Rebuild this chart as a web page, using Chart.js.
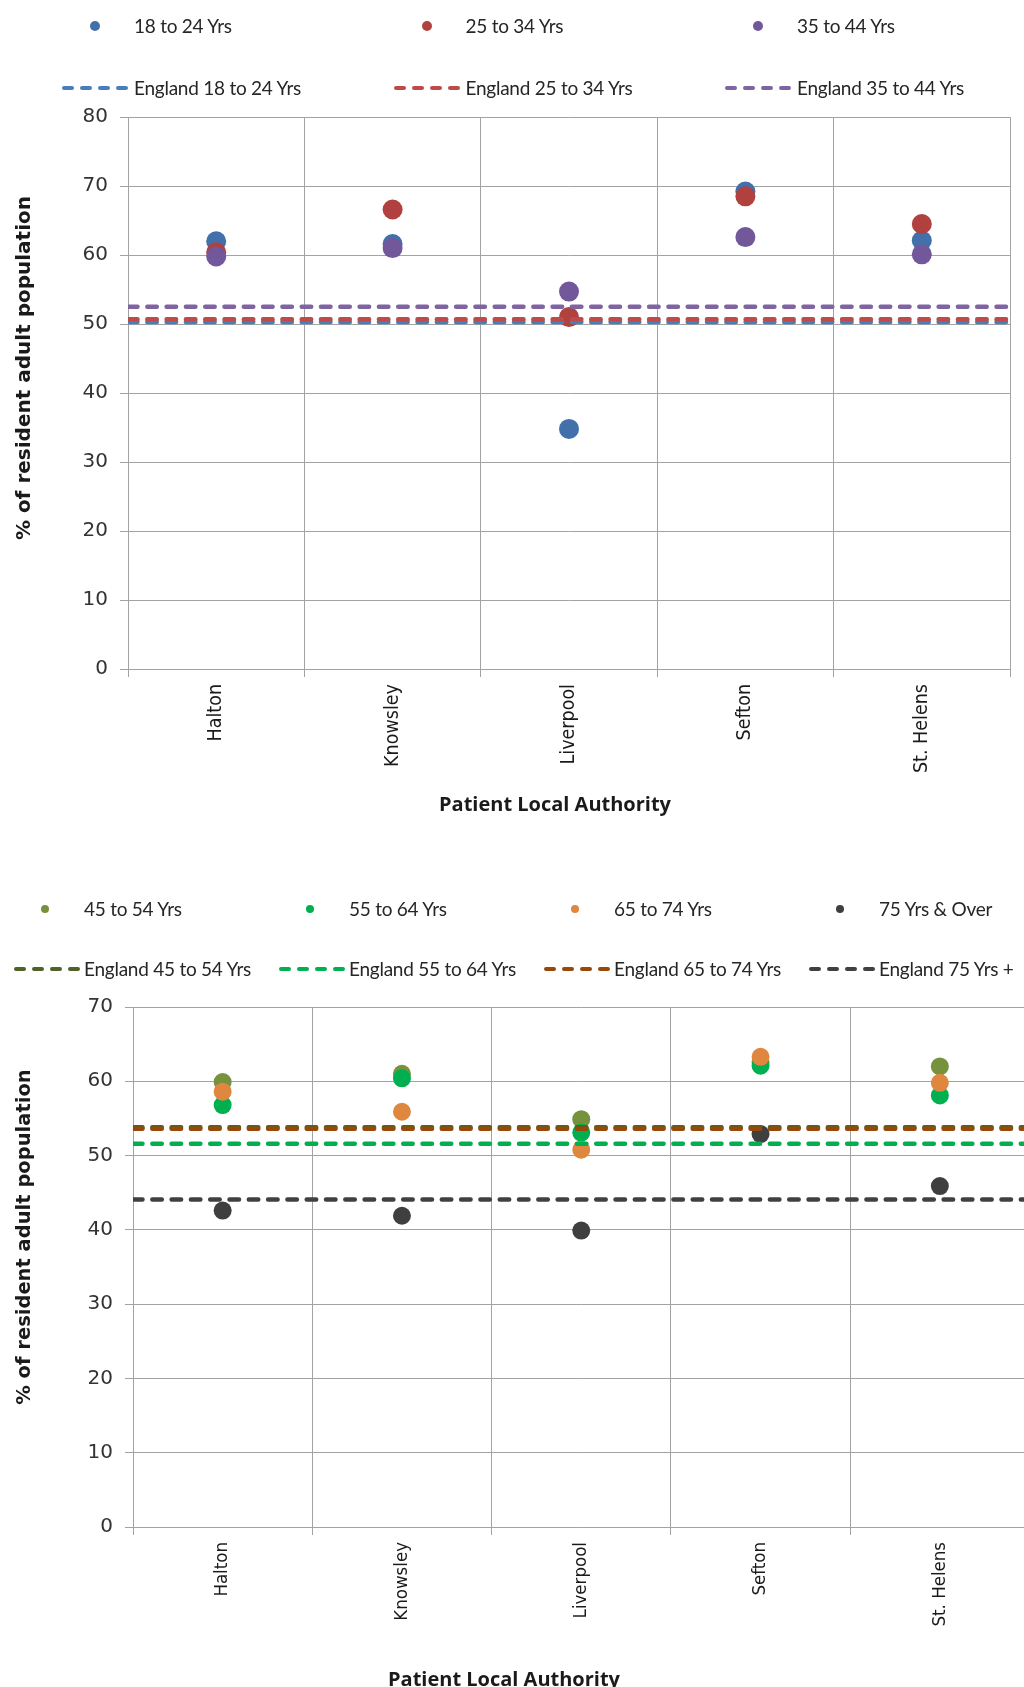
<!DOCTYPE html>
<html>
<head>
<meta charset="utf-8">
<script src="https://cdn.jsdelivr.net/npm/chart.js@4.4.1/dist/chart.umd.min.js"></script>
<style>
  html, body { margin: 0; padding: 0; background: #fff; width: 1024px; height: 1687px; overflow: hidden; position: relative; }
  .bloco { position: absolute; left: 0; }
  .item { position: absolute; white-space: nowrap; font-family: Lato, 'Open Sans', sans-serif; font-size: 19px; letter-spacing: -0.25px; line-height: 24px; color: #262626; }
  .ponto { position: absolute; border-radius: 50%; }
  .traco { position: absolute; }
</style>
</head>
<body>
<div class="bloco" style="top:0; width:1024px; height:830px;"><canvas id="chartJovens" width="1024" height="830"></canvas></div>
<div class="bloco" style="top:870px; width:1040px; height:822px;"><canvas id="chartVelhos" width="1040" height="822"></canvas></div>
<div id="legendaJovens"></div>
<div id="legendaVelhos"></div>
<script>
// Autoridades locais (eixo x)
const categorias = ['Halton', 'Knowsley', 'Liverpool', 'Sefton', 'St. Helens'];

// Grafico de cima: faixas etarias mais jovens (% da populacao adulta residente)
const rotulosJovens = ['18 to 24 Yrs', '25 to 34 Yrs', '35 to 44 Yrs'];
const valores18a24 = [62.0, 61.6, 34.8, 69.2, 62.1];
const valores25a34 = [60.4, 66.6, 51.0, 68.5, 64.5];
const valores35a44 = [59.8, 61.0, 54.7, 62.6, 60.1];
const rotulosInglaterraJovens = ['England 18 to 24 Yrs', 'England 25 to 34 Yrs', 'England 35 to 44 Yrs'];
const inglaterraJovens = [50.3, 50.7, 52.5];
const ticksJovens = [0, 10, 20, 30, 40, 50, 60, 70, 80];

// Grafico de baixo: faixas etarias mais velhas
const rotulosVelhos = ['45 to 54 Yrs', '55 to 64 Yrs', '65 to 74 Yrs', '75 Yrs & Over'];
const valores45a54 = [59.9, 61.0, 54.9, 62.6, 62.0];
const valores55a64 = [56.8, 60.4, 53.1, 62.1, 58.1];
const valores65a74 = [58.6, 55.9, 50.8, 63.3, 59.8];
const valores75mais = [42.6, 41.9, 39.9, 52.9, 45.9];
const rotulosInglaterraVelhos = ['England 45 to 54 Yrs', 'England 55 to 64 Yrs', 'England 65 to 74 Yrs', 'England 75 Yrs +'];
const inglaterraVelhos = [53.8, 51.6, 53.6, 44.1];
const ticksVelhos = [0, 10, 20, 30, 40, 50, 60, 70];

// Textos dos eixos
const tituloEixoX = 'Patient Local Authority';
const tituloEixoY = '% of resident adult population';

// Cores (estilo)
const coresPontosJovens = ['#4170AB', '#B0413E', '#72579A'];
const coresLinhasJovens = ['#4A7EBB', '#BE4B48', '#8064A2'];
const coresPontosVelhos = ['#76923C', '#00B050', '#E0873F', '#3F3F3F'];
const coresLinhasVelhos = ['#4F6228', '#00B050', '#984807', '#404040'];

const corGrade = '#a3a3a3';

// Titulos dos eixos desenhados na posicao do original (o Excel nao centra no plot)
const pluginTitulos = {
    id: 'titulosEixos',
    afterDraw(chart, args, opts) {
        const ctx = chart.ctx;
        ctx.save();
        ctx.fillStyle = '#1a1a1a';
        ctx.textAlign = 'center';
        ctx.textBaseline = 'middle';
        ctx.font = 'bold 20px "Open Sans"';
        ctx.fillText(tituloEixoX, opts.xTitulo[0], opts.xTitulo[1]);
        ctx.translate(opts.yTitulo[0], opts.yTitulo[1]);
        ctx.rotate(-Math.PI / 2);
        ctx.font = 'bold ' + opts.tamanhoY + 'px "DejaVu Sans"';
        ctx.fillText(tituloEixoY, 0, 0);
        ctx.restore();
    }
};

document.addEventListener('DOMContentLoaded', function() {

    criarGrafico('chartJovens', {
        series: [valores18a24, valores25a34, valores35a44],
        rotulos: rotulosJovens,
        cores: coresPontosJovens,
        referencias: inglaterraJovens,
        rotulosRef: rotulosInglaterraJovens,
        coresRef: coresLinhasJovens,
        ticks: ticksJovens,
        raio: 10,
        padding: { top: 117, right: 14, left: 0, bottom: 0 },
        larguraY: 128,
        alturaX: 161,
        fonteX: 19.5,
        titulos: { xTitulo: [555, 805], yTitulo: [25, 368], tamanhoY: 20 }
    });

    criarGrafico('chartVelhos', {
        series: [valores45a54, valores55a64, valores65a74, valores75mais],
        rotulos: rotulosVelhos,
        cores: coresPontosVelhos,
        referencias: inglaterraVelhos,
        rotulosRef: rotulosInglaterraVelhos,
        coresRef: coresLinhasVelhos,
        ticks: ticksVelhos,
        raio: 9,
        padding: { top: 137, right: 10.5, left: 0, bottom: 0 },
        larguraY: 133,
        alturaX: 165,
        fonteX: 18.5,
        titulos: { xTitulo: [504, 810], yTitulo: [25, 367], tamanhoY: 19.5 }
    });

    criarLegenda('legendaJovens', rotulosJovens, coresPontosJovens, rotulosInglaterraJovens, coresLinhasJovens,
        { linha1: 26, linha2: 88, texto: 134, passo: 331.5, raio: 5, folga: 6 });
    criarLegenda('legendaVelhos', rotulosVelhos, coresPontosVelhos, rotulosInglaterraVelhos, coresLinhasVelhos,
        { linha1: 909, linha2: 969, texto: 84, passo: 265, raio: 4, folga: 4 });

    // Grafico de pontos com linhas tracejadas de referencia (Inglaterra)
    function criarGrafico(idCanvas, cfg) {
        const ctx = document.getElementById(idCanvas);
        if (!ctx) return;

        const datasets = [];
        cfg.series.forEach((valores, i) => {
            datasets.push({
                label: cfg.rotulos[i],
                data: valores,
                xAxisID: 'x',
                showLine: false,
                backgroundColor: cfg.cores[i],
                borderColor: cfg.cores[i],
                pointRadius: cfg.raio,
                pointHoverRadius: cfg.raio,
                pointBorderWidth: 0
            });
        });
        cfg.referencias.forEach((valor, i) => {
            datasets.push({
                label: cfg.rotulosRef[i],
                data: [{ x: 0, y: valor }, { x: 1, y: valor }],
                xAxisID: 'xRef',
                borderColor: cfg.coresRef[i],
                borderWidth: 4.5,
                borderDash: [9.5, 9.8],
                borderCapStyle: 'round',
                pointRadius: 0,
                fill: false
            });
        });
        // o primeiro fica por baixo, as linhas por cima
        datasets.forEach((d, i) => { d.order = datasets.length - i; });

        const maxY = cfg.ticks[cfg.ticks.length - 1];

        new Chart(ctx, {
            type: 'line',
            data: {
                labels: categorias,
                datasets: datasets
            },
            plugins: [pluginTitulos],
            options: {
                responsive: false,
                animation: false,
                layout: { padding: cfg.padding },
                plugins: {
                    legend: { display: false },
                    tooltip: { enabled: false },
                    titulosEixos: cfg.titulos
                },
                scales: {
                    x: {
                        type: 'category',
                        offset: true,
                        grid: { offset: true, color: corGrade, lineWidth: 1, tickLength: 8 },
                        border: { color: corGrade },
                        ticks: {
                            minRotation: 90,
                            maxRotation: 90,
                            autoSkip: false,
                            padding: 7,
                            color: '#1a1a1a',
                            font: { family: '"DejaVu Sans Condensed", "DejaVu Sans"', size: cfg.fonteX }
                        },
                        afterFit: function(scale) { scale.height = cfg.alturaX; }
                    },
                    xRef: {
                        type: 'linear',
                        display: false,
                        min: 0,
                        max: 1
                    },
                    y: {
                        min: 0,
                        max: maxY,
                        afterBuildTicks: function(scale) {
                            scale.ticks = cfg.ticks.map(v => ({ value: v }));
                        },
                        grid: { color: corGrade, lineWidth: 1, tickLength: 8 },
                        border: { color: corGrade },
                        ticks: {
                            padding: 12,
                            color: '#333333',
                            font: { family: 'DejaVu Sans', size: 20 }
                        },
                        afterFit: function(scale) { scale.width = cfg.larguraY; }
                    }
                }
            }
        });
    }

    // Legenda em HTML: linha 1 com os pontos, linha 2 com os tracejados
    function criarLegenda(idAlvo, rotulos, cores, rotulosRef, coresRef, pos) {
        const alvo = document.getElementById(idAlvo);
        if (!alvo) return;

        rotulos.forEach((rotulo, i) => {
            const xTexto = pos.texto + i * pos.passo;
            const ponto = document.createElement('div');
            ponto.className = 'ponto';
            ponto.style.width = (pos.raio * 2) + 'px';
            ponto.style.height = (pos.raio * 2) + 'px';
            ponto.style.left = (xTexto - 39 - pos.raio) + 'px';
            ponto.style.top = (pos.linha1 - pos.raio) + 'px';
            ponto.style.background = cores[i];
            alvo.appendChild(ponto);

            const texto = document.createElement('div');
            texto.className = 'item';
            texto.style.left = xTexto + 'px';
            texto.style.top = (pos.linha1 - 12) + 'px';
            texto.textContent = rotulo;
            alvo.appendChild(texto);
        });

        rotulosRef.forEach((rotulo, i) => {
            const xTexto = pos.texto + i * pos.passo;
            const w = 66;
            const svg = document.createElementNS('http://www.w3.org/2000/svg', 'svg');
            svg.setAttribute('class', 'traco');
            svg.setAttribute('width', w);
            svg.setAttribute('height', 8);
            svg.style.left = (xTexto - w - pos.folga) + 'px';
            svg.style.top = (pos.linha2 - 4) + 'px';
            const linha = document.createElementNS('http://www.w3.org/2000/svg', 'line');
            linha.setAttribute('x1', 2);
            linha.setAttribute('y1', 4);
            linha.setAttribute('x2', w - 2);
            linha.setAttribute('y2', 4);
            linha.setAttribute('stroke', coresRef[i]);
            linha.setAttribute('stroke-width', 4);
            linha.setAttribute('stroke-dasharray', '8 10');
            linha.setAttribute('stroke-linecap', 'round');
            svg.appendChild(linha);
            alvo.appendChild(svg);

            const texto = document.createElement('div');
            texto.className = 'item';
            texto.style.left = xTexto + 'px';
            texto.style.top = (pos.linha2 - 12) + 'px';
            texto.textContent = rotulo;
            alvo.appendChild(texto);
        });
    }

});
</script>
</body>
</html>
